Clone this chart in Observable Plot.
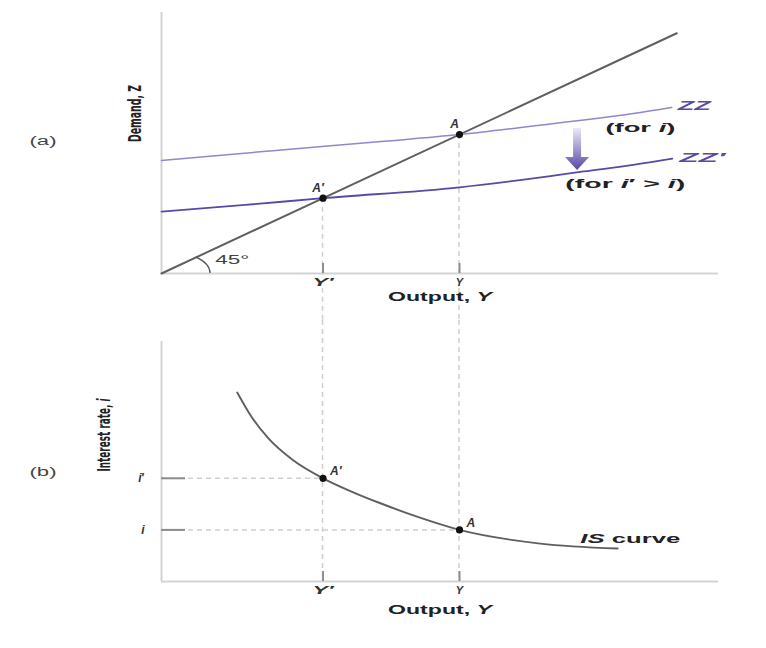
<!DOCTYPE html>
<html><head><meta charset="utf-8">
<script src="https://cdn.jsdelivr.net/npm/d3@7"></script>
<script src="https://cdn.jsdelivr.net/npm/@observablehq/plot@0.6"></script>
<style>
body{margin:0;background:#fff;}
#chart{width:766px;height:648px;background:#fff;}
#chart svg{display:block;}
</style></head><body><div id="chart"></div>
<script>
// ---------------- data ----------------
const outputLevels = [29, 53.5];              // Y′, Y
const outputTickLabels = ["Y′", "Y"];
const rateLevels = [43, 21.5];                // i′, i
const rateTickLabels = ["*i*′", "*i*"];

const line45X = [0, 92.5];
const line45Z = [0, 92.5];

const zzX = [0, 20, 40, 53.5, 69.8, 75.8, 84.7, 91.6];
const zzZ = [43.5, 47.3, 50.9, 53.5, 57.6, 59.1, 61.6, 63.9];

const zzPrimeX = [0, 15, 29, 53.5, 69.8, 75.8, 84.7, 91.7];
const zzPrimeZ = [23.8, 26.4, 29, 33.2, 37.5, 39.3, 41.8, 44.2];

const isX = [13.6, 16.0, 19.2, 23.7, 29, 34, 39.3, 46, 53.5, 68.0, 81.9];
const isI = [78.75, 69.2, 59.6, 50.4, 43, 37.6, 32.6, 26.9, 21.5, 15.8, 13.75];

const pointLabels = ["A′", "A"];

// annotation anchors (data units)
const notesTop = [
  {x: 79.7, z: 56.2, text: "(for *i*)"},
  {x: 72.5, z: 34.7, text: "(for *i*′ > *i*)"}
];
const angleNote = [{x: 12.7, z: 5, text: "45°"}];
const angleRadius = 8.8;
const shiftArrow = [{x: 74.7, from: 55.8, to: 39.7}];
const notesBottom = [{x: 75.2, i: 17.9, text: "*IS* curve"}];

// ---------------- styles ----------------
const axisColor = "#d3d3d3";
const tickColor = "#8c8c8c";
const dashColor = "#cfcfcf";
const zzColor = "#9386cc";
const zzPrimeColor = "#5a48a8";
const zzTextColor = "#5b4ba3";
const curveColor = "#5f5f5f";
const textColor = "#222";
const wideFont = "Liberation Sans, Arial, sans-serif";
const narrowFont = "Liberation Sans Narrow, DejaVu Sans Condensed, sans-serif";
const labelWidths = {
  "Output, Y": 104, "(for i)": 70, "(for i′ > i)": 120, "IS curve": 100,
  "ZZ": 33, "ZZ′": 46, "45°": 34, "(a)": 27, "(b)": 27,
  "Demand, Z": 57, "Interest rate, i": 73, "Y′": 21
};

// ---------------- tables ----------------
const zz = zzX.map((x, k) => ({x, z: zzZ[k]}));
const zzPrime = zzPrimeX.map((x, k) => ({x, z: zzPrimeZ[k]}));
const diag = line45X.map((x, k) => ({x, z: line45Z[k]}));
const isCurve = isX.map((x, k) => ({x, i: isI[k]}));
const topPoints = outputLevels.map((x, k) => ({x, z: x, label: pointLabels[k]}));
const bottomPoints = outputLevels.map((x, k) => ({x, i: rateLevels[k], label: pointLabels[k]}));

// ---------------- custom render marks ----------------
function dropLines(points, yKey, mode) {
  return (index, scales, values, dims) => {
    const g = d3.create("svg:g")
      .attr("stroke", dashColor).attr("stroke-width", 1.5).attr("stroke-dasharray", "5,4").attr("fill", "none");
    for (const p of points) {
      const px = scales.x(p.x);
      const y1 = mode === "down" ? scales.y(p[yKey]) : 0;
      const y2 = mode === "down" ? dims.height : scales.y(0);
      g.append("line").attr("x1", px).attr("x2", px).attr("y1", y1).attr("y2", y2);
    }
    return g.node();
  };
}

function angleArc(index, scales) {
  const x0 = scales.x(0), y0 = scales.y(0);
  const rx = scales.x(angleRadius) - x0, ry = y0 - scales.y(angleRadius);
  const ex = x0 + rx * Math.SQRT1_2, ey = y0 - ry * Math.SQRT1_2;
  return d3.create("svg:path")
    .attr("d", `M${x0 + rx},${y0} A${rx},${ry} 0 0 0 ${ex},${ey}`)
    .attr("fill", "none").attr("stroke", "#555").attr("stroke-width", 1.3).node();
}

function arrowMark(index, scales) {
  const g = d3.create("svg:g");
  const grad = g.append("defs").append("linearGradient").attr("id", "arrowGrad")
    .attr("x1", 0).attr("y1", 0).attr("x2", 0).attr("y2", 1);
  grad.append("stop").attr("offset", "0%").attr("stop-color", "#ece8f7");
  grad.append("stop").attr("offset", "100%").attr("stop-color", "#5a47a8");
  for (const a of shiftArrow) {
    const cx = scales.x(a.x), top = scales.y(a.from), tip = scales.y(a.to);
    const hw = 12, sw = 4, hl = 13;
    g.append("path")
      .attr("d", `M${cx - sw},${top} L${cx + sw},${top} L${cx + sw},${tip - hl} L${cx + hw},${tip - hl} L${cx},${tip} L${cx - hw},${tip - hl} L${cx - sw},${tip - hl} Z`)
      .attr("fill", "url(#arrowGrad)");
  }
  return g.node();
}

// ---------------- top panel ----------------
const topPlot = Plot.plot({
  width: 766, height: 320,
  marginLeft: 161, marginRight: 48, marginTop: 12, marginBottom: 47,
  x: {domain: [0, 100]},
  y: {domain: [0, 100.5], axis: null},
  style: {fontFamily: wideFont, background: "transparent", overflow: "visible"},
  marks: [
    dropLines(topPoints, "z", "down"),
    Plot.ruleX([0], {stroke: axisColor, strokeWidth: 2}),
    Plot.ruleY([0], {stroke: axisColor, strokeWidth: 2}),
    Plot.axisX({ticks: outputLevels, tickSize: -10, fill: "none", label: null, stroke: tickColor, strokeWidth: 2}),
    Plot.text(outputLevels, {x: d => d, text: (d, k) => outputTickLabels[k], frameAnchor: "bottom", dy: 12,
      fontSize: 11, fontWeight: "bold", fontStyle: "italic", fill: "#333", stroke: "white", strokeWidth: 4}),
    Plot.text(["Output, *Y*"], {frameAnchor: "bottom", dy: 27, fontSize: 13.5, fontWeight: "bold", fill: textColor}),
    Plot.text(["Demand, Z"], {frameAnchor: "left", rotate: -90, dx: -26, dy: -1, fontSize: 18, fontWeight: "bold",
      fontFamily: narrowFont, fill: textColor}),
    Plot.text(["(a)"], {frameAnchor: "left", dx: -132, dy: -2, fontSize: 12, fill: "#444"}),
    Plot.line(diag, {x: "x", y: "z", stroke: curveColor, strokeWidth: 2}),
    angleArc,
    Plot.text(angleNote, {x: "x", y: "z", text: "text", fontSize: 12, fill: "#444"}),
    Plot.line(zz, {x: "x", y: "z", curve: "monotone-x", stroke: zzColor, strokeWidth: 1.5}),
    Plot.line(zzPrime, {x: "x", y: "z", curve: "monotone-x", stroke: zzPrimeColor, strokeWidth: 1.8}),
    arrowMark,
    Plot.text([zz[zz.length - 1]], {x: "x", y: "z", text: () => "ZZ", textAnchor: "start", dx: 6, dy: -2,
      fontSize: 13, fontWeight: "bold", fontStyle: "italic", fill: zzTextColor}),
    Plot.text([zzPrime[zzPrime.length - 1]], {x: "x", y: "z", text: () => "ZZ′", textAnchor: "start", dx: 7, dy: -1,
      fontSize: 13, fontWeight: "bold", fontStyle: "italic", fill: zzTextColor}),
    Plot.text(notesTop, {x: "x", y: "z", text: "text", textAnchor: "start", fontSize: 13, fontWeight: "bold", fill: textColor}),
    Plot.dot(topPoints, {x: "x", y: "z", r: 3.6, fill: "#111"}),
    Plot.text(topPoints, {x: "x", y: "z", text: "label", dx: -5, dy: -10, fontSize: 12, fontStyle: "italic", fontWeight: "bold", fill: "#333"})
  ]
});

// ---------------- bottom panel ----------------
const bottomPlot = Plot.plot({
  width: 766, height: 328,
  marginLeft: 161, marginRight: 48, marginTop: 21, marginBottom: 67,
  x: {domain: [0, 100]},
  y: {domain: [0, 100]},
  style: {fontFamily: wideFont, background: "transparent", overflow: "visible"},
  marks: [
    dropLines(bottomPoints, "i", "up"),
    Plot.ruleY(bottomPoints, {y: "i", x1: 0, x2: "x", stroke: dashColor, strokeWidth: 1.5, strokeDasharray: "5,4"}),
    Plot.ruleX([0], {stroke: axisColor, strokeWidth: 2}),
    Plot.ruleY([0], {stroke: axisColor, strokeWidth: 2}),
    Plot.axisX({ticks: outputLevels, tickSize: -10, fill: "none", label: null, stroke: tickColor, strokeWidth: 2}),
    Plot.axisY({ticks: rateLevels, tickSize: -24, fill: "none", label: null, stroke: tickColor, strokeWidth: 2}),
    Plot.text(outputLevels, {x: d => d, text: (d, k) => outputTickLabels[k], frameAnchor: "bottom", dy: 12,
      fontSize: 11, fontWeight: "bold", fontStyle: "italic", fill: "#333"}),
    Plot.text(rateLevels, {y: d => d, text: (d, k) => rateTickLabels[k], frameAnchor: "left", dx: -17, textAnchor: "end",
      fontSize: 12, fontWeight: "bold", fill: "#333"}),
    Plot.text(["Output, *Y*"], {frameAnchor: "bottom", dy: 32, fontSize: 13.5, fontWeight: "bold", fill: textColor}),
    Plot.text(["Interest rate, *i*"], {frameAnchor: "left", rotate: -90, dx: -57, dy: 10, fontSize: 18, fontWeight: "bold",
      fontFamily: narrowFont, fill: textColor}),
    Plot.text(["(b)"], {frameAnchor: "left", dx: -132, dy: 11, fontSize: 12, fill: "#444"}),
    Plot.line(isCurve, {x: "x", y: "i", curve: "monotone-x", stroke: curveColor, strokeWidth: 1.9}),
    Plot.text(notesBottom, {x: "x", y: "i", text: "text", textAnchor: "start", fontSize: 13, fontWeight: "bold", fill: textColor}),
    Plot.dot(bottomPoints, {x: "x", y: "i", r: 3.6, fill: "#111"}),
    Plot.text(bottomPoints, {x: "x", y: "i", text: "label", textAnchor: "start", dx: 7, dy: -7, fontSize: 12,
      fontStyle: "italic", fontWeight: "bold", fill: "#333"})
  ]
});

// ---------------- rich text (italic parts, widths) ----------------
function richText(svg) {
  const ns = "http://www.w3.org/2000/svg";
  d3.select(svg).selectAll("text").each(function() {
    const el = this;
    const raw = el.textContent;
    const plain = raw.replace(/\*/g, "");
    if (raw.includes("*") && el.children.length === 0) {
      el.textContent = "";
      raw.split("*").forEach((part, k) => {
        if (!part) return;
        const t = document.createElementNS(ns, "tspan");
        t.textContent = part;
        if (k % 2) t.setAttribute("font-style", "italic");
        el.appendChild(t);
      });
    }
    if (labelWidths[plain]) {
      el.setAttribute("textLength", labelWidths[plain]);
      el.setAttribute("lengthAdjust", "spacingAndGlyphs");
    }
  });
}
richText(topPlot);
richText(bottomPlot);

const chart = document.getElementById("chart");
chart.appendChild(topPlot);
chart.appendChild(bottomPlot);
</script>
</body></html>
